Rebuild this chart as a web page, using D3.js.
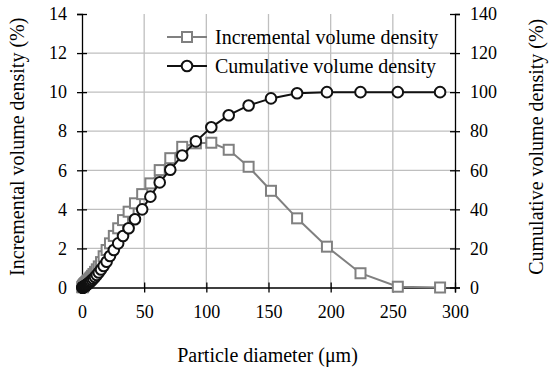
<!DOCTYPE html>
<html>
<head>
<meta charset="utf-8">
<script src="https://cdn.jsdelivr.net/npm/d3@7"></script>
<style>
  html, body { margin: 0; padding: 0; background: #fff; }
  svg { display: block; font-family: 'Liberation Serif', serif; }
</style>
</head>
<body>
<svg></svg>
<script>
// particle size bins (um)
const diameter = [0.43, 0.49, 0.56, 0.64, 0.72, 0.82, 0.93, 1.06, 1.2, 1.37, 1.56, 1.77,
  2.0, 2.3, 2.6, 2.9, 3.3, 3.8, 4.3, 4.9, 5.5, 6.3, 7.1, 8.1, 9.2, 10.5, 11.9, 13.5,
  15.3, 17.4, 19.8, 22.5, 25.6, 29.1, 33, 37.5, 42.6, 48.4, 55, 62.5, 71, 80.6, 91.6,
  104, 118, 134, 152, 173, 197, 224, 254, 288];
// incremental volume density (%)
const incremental = [0.01, 0.02, 0.03, 0.04, 0.05, 0.06, 0.07, 0.08, 0.1, 0.11, 0.13, 0.15,
  0.17, 0.19, 0.21, 0.23, 0.26, 0.29, 0.32, 0.36, 0.4, 0.46, 0.52, 0.6, 0.69, 0.8, 0.93, 1.08,
  1.3, 1.6, 1.92, 2.26, 2.64, 3.03, 3.45, 3.88, 4.31, 4.78, 5.33, 6.01, 6.62, 7.2, 7.38,
  7.41, 7.05, 6.18, 4.95, 3.54, 2.09, 0.73, 0.04, 0];
// cumulative volume density (%)
const cumulative = [0.01, 0.02, 0.04, 0.06, 0.09, 0.12, 0.17, 0.22, 0.28, 0.35, 0.42, 0.5,
  0.6, 0.72, 0.85, 1.0, 1.2, 1.4, 1.65, 1.95, 2.3, 2.7, 3.2, 3.8, 4.5, 5.4, 6.4, 7.7,
  9.2, 11, 13.2, 16.1, 19.2, 22.6, 26.4, 30.3, 34.9, 40, 46.5, 53.8, 60.3, 67.6, 74.8,
  82, 88.2, 93.2, 96.8, 99.4, 100, 100, 100, 100];

const xTicks = [0, 50, 100, 150, 200, 250, 300];
const yLeftTicks = [0, 2, 4, 6, 8, 10, 12, 14];
const yRightTicks = [0, 20, 40, 60, 80, 100, 120, 140];
const seriesNames = ['Incremental volume density', 'Cumulative volume density'];

const width = 550, height = 379;
const margin = { left: 82, top: 14, right: 95, bottom: 91.5 };

const svg = d3.select('svg').attr('width', width).attr('height', height);
svg.append('rect').attr('width', width).attr('height', height).attr('fill', '#fff');

const x = d3.scaleLinear().domain([0, 300]).range([margin.left, width - margin.right]);
const yL = d3.scaleLinear().domain([0, 14]).range([height - margin.bottom, margin.top]);
const yR = d3.scaleLinear().domain([0, 140]).range([height - margin.bottom, margin.top]);

const gridColor = '#bfbfbf';
const grid = svg.append('g').attr('class', 'grid');
grid.selectAll('line.v')
  .data(xTicks.filter((d) => d > 0 && d < 300))
  .enter().append('line')
  .attr('x1', (d) => x(d)).attr('x2', (d) => x(d))
  .attr('y1', yL(0)).attr('y2', yL(14))
  .attr('stroke', gridColor).attr('stroke-width', 1.3);
grid.selectAll('line.h')
  .data(yLeftTicks.filter((d) => d > 0 && d < 14))
  .enter().append('line')
  .attr('x1', x(0)).attr('x2', x(300))
  .attr('y1', (d) => yL(d)).attr('y2', (d) => yL(d))
  .attr('stroke', gridColor).attr('stroke-width', 1.3);

// axes with crossing ticks
const tickFont = 18;
const textFont = 20;
const xAxis = svg.append('g')
  .attr('transform', `translate(0,${yL(0)})`)
  .call(d3.axisBottom(x).tickValues(xTicks).tickSize(5).tickPadding(13));
const yAxisL = svg.append('g')
  .attr('transform', `translate(${x(0)},0)`)
  .call(d3.axisLeft(yL).tickValues(yLeftTicks).tickSize(5).tickPadding(10));
const yAxisR = svg.append('g')
  .attr('transform', `translate(${x(300)},0)`)
  .call(d3.axisRight(yR).tickValues(yRightTicks).tickSize(5).tickPadding(10));

xAxis.selectAll('.tick line').attr('y1', -5);
yAxisL.selectAll('.tick line').attr('x1', 5);
yAxisR.selectAll('.tick line').attr('x1', -5);

[xAxis, yAxisL, yAxisR].forEach((a) => {
  a.select('.domain').attr('stroke', '#000').attr('stroke-width', 1.3);
  a.selectAll('.tick line').attr('stroke', '#000').attr('stroke-width', 1.3);
  a.selectAll('.tick text')
    .attr('fill', '#000')
    .style('font-family', "'Liberation Serif', serif")
    .style('font-size', tickFont + 'px');
});

// series
const incData = diameter.map((d, i) => ({ x: d, y: incremental[i] }));
const cumData = diameter.map((d, i) => ({ x: d, y: cumulative[i] }));

const incColor = '#808080';
const cumColor = '#111';

svg.append('path')
  .datum(incData)
  .attr('fill', 'none').attr('stroke', incColor).attr('stroke-width', 2)
  .attr('d', d3.line().x((d) => x(d.x)).y((d) => yL(d.y)));

const sq = 10;
svg.append('g').selectAll('rect')
  .data(incData)
  .enter().append('rect')
  .attr('x', (d) => x(d.x) - sq / 2)
  .attr('y', (d) => yL(d.y) - sq / 2)
  .attr('width', sq).attr('height', sq)
  .attr('fill', '#fff').attr('stroke', incColor).attr('stroke-width', 2);

svg.append('path')
  .datum(cumData)
  .attr('fill', 'none').attr('stroke', cumColor).attr('stroke-width', 2)
  .attr('d', d3.line().x((d) => x(d.x)).y((d) => yR(d.y)));

svg.append('g').selectAll('circle')
  .data(cumData)
  .enter().append('circle')
  .attr('cx', (d) => x(d.x))
  .attr('cy', (d) => yR(d.y))
  .attr('r', 5.3)
  .attr('fill', '#fff').attr('stroke', cumColor).attr('stroke-width', 2);

// legend
const legend = svg.append('g').attr('transform', 'translate(167,37)');
const legendRows = legend.selectAll('g')
  .data(seriesNames)
  .enter().append('g')
  .attr('transform', (d, i) => `translate(0,${i * 29})`);
legendRows.append('line')
  .attr('x1', 0).attr('x2', 40)
  .attr('stroke', (d, i) => (i === 0 ? incColor : cumColor))
  .attr('stroke-width', 2);
legendRows.filter((d, i) => i === 0).append('rect')
  .attr('x', 20 - sq / 2).attr('y', -sq / 2).attr('width', sq).attr('height', sq)
  .attr('fill', '#fff').attr('stroke', incColor).attr('stroke-width', 2);
legendRows.filter((d, i) => i === 1).append('circle')
  .attr('cx', 20).attr('r', 5.3)
  .attr('fill', '#fff').attr('stroke', cumColor).attr('stroke-width', 2);
legendRows.append('text')
  .attr('x', 48).attr('dy', '0.33em')
  .style('font-size', textFont + 'px')
  .text((d) => d);

// axis titles
svg.append('text')
  .attr('x', (x(0) + x(300)) / 2 - 1).attr('y', 362)
  .attr('text-anchor', 'middle')
  .style('font-size', textFont + 'px')
  .text('Particle diameter (\u03bcm)');
svg.append('text')
  .attr('transform', `translate(24,${(yL(0) + yL(14)) / 2 - 4}) rotate(-90)`)
  .attr('text-anchor', 'middle')
  .style('font-size', textFont + 'px')
  .text('Incremental volume density (%)');
svg.append('text')
  .attr('transform', `translate(529,${(yL(0) + yL(14)) / 2 - 4}) rotate(-90)`)
  .attr('text-anchor', 'middle')
  .attr('dy', '0.7em')
  .style('font-size', textFont + 'px')
  .text('Cumulative volume density (%)');
</script>
</body>
</html>
